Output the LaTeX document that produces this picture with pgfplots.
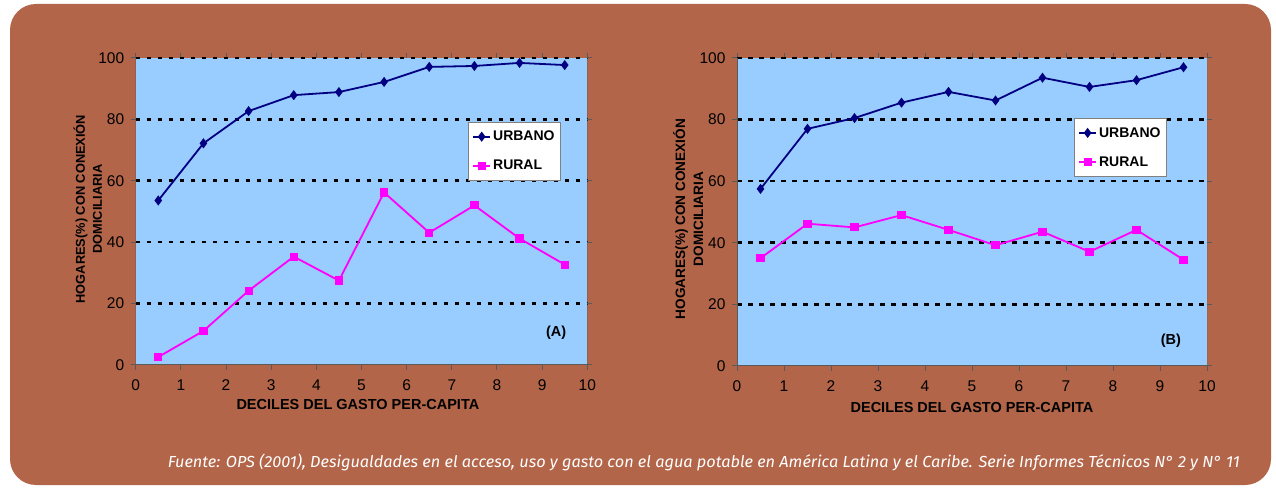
\documentclass[border=0pt]{standalone}
\usepackage{pgfplots}
\pgfplotsset{compat=1.18}
\usepackage{fontspec}
\setmainfont{Liberation Sans}
\newfontfamily\footfont{Fira Sans}
\definecolor{bgbrown}{RGB}{178,101,73}
\definecolor{plotblue}{RGB}{153,204,255}
\definecolor{urb}{RGB}{0,0,128}
\definecolor{rur}{RGB}{255,0,255}
\definecolor{axgray}{RGB}{90,90,90}

\pgfplotsset{mychart/.style={
  scale only axis, xmin=0, xmax=10, ymin=0, ymax=100,
  xtick={0,...,10}, ytick={0}, extra y ticks={20,40,60,80,100},
  extra y tick style={ymajorgrids=true},
  grid style={black, line width=2.6pt, dash pattern=on 4.5pt off 6.5pt},
  axis background/.style={fill=plotblue},
  axis line style={draw=none},
  tick style={draw=axgray, line width=1pt},
  tick align=outside, major tick length=5pt,
  tick label style={font=\fontsize{15.5}{16}\selectfont, black},
  xticklabel style={yshift=-6pt},
  yticklabel style={xshift=-3pt},
  /pgf/number format/assume math mode=true,
  xlabel={DECILES DEL GASTO PER-CAPITA},
  xlabel style={font=\fontsize{14.5}{15}\bfseries\selectfont, anchor=center},
  ylabel={HOGARES(\%) CON CONEXIÓN\\DOMICILIARIA},
  ylabel style={font=\fontsize{12.8}{17}\bfseries\selectfont, align=center, anchor=center, rotate=0},
  legend style={draw=gray, fill=white, font=\fontsize{14}{15}\bfseries\selectfont,
     row sep=14pt, inner xsep=4pt, inner ysep=7pt, legend cell align=left, anchor=north west},
  urbano/.style={color=urb, line width=1.8pt, mark=diamond*, mark size=3.6pt, mark options={solid}},
  rural/.style={color=rur, line width=1.8pt, mark=square*, mark size=3.2pt, mark options={solid}},
}}

\begin{document}
\begin{tikzpicture}[x=1pt,y=1pt]
\fill[white] (0,0) rectangle (1276,487);
\fill[bgbrown, rounded corners=26pt] (10,2) rectangle (1271,483);

% ---------- Panel A ----------
\begin{axis}[mychart, at={(135.7pt,122pt)}, anchor=south west, width=451.6pt, height=307pt,
  xlabel style={at={(rel axis cs:0.492,0)}, yshift=-40pt},
  ylabel style={at={(rel axis cs:-0.106,0.508)}},
  legend style={at={(rel axis cs:0.736,0.792)}}]
\draw[axgray, line width=1pt] (rel axis cs:0,1) -- (rel axis cs:0,0) -- (rel axis cs:1,0) -- (rel axis cs:1,1);
\addplot[urbano] coordinates {(0.5,53.6) (1.5,72.2) (2.5,82.7) (3.5,87.9) (4.5,88.9) (5.5,92.2) (6.5,97.1) (7.5,97.4) (8.5,98.4) (9.5,97.7)};
\addlegendentry{URBANO}
\addplot[rural] coordinates {(0.5,2.6) (1.5,11.1) (2.5,24.2) (3.5,35.3) (4.5,27.5) (5.5,56.2) (6.5,43.1) (7.5,52.0) (8.5,41.2) (9.5,32.7)};
\addlegendentry{RURAL}
\node[font=\fontsize{14.5}{15}\bfseries\selectfont] at (axis cs:9.31,10.4) {(A)};
\end{axis}

% ---------- Panel B ----------
\begin{axis}[mychart, at={(737pt,121pt)}, anchor=south west, width=470pt, height=308pt,
  xlabel style={at={(rel axis cs:0.5,0)}, yshift=-42pt},
  ylabel style={font=\fontsize{13.6}{18}\bfseries\selectfont, at={(rel axis cs:-0.104,0.477)}},
  legend style={at={(rel axis cs:0.717,0.805)}}]
\draw[axgray, line width=1pt] (rel axis cs:0,1) -- (rel axis cs:0,0) -- (rel axis cs:1,0) -- (rel axis cs:1,1);
\addplot[urbano] coordinates {(0.5,57.5) (1.5,77.0) (2.5,80.5) (3.5,85.5) (4.5,89.0) (5.5,86.2) (6.5,93.6) (7.5,90.6) (8.5,92.8) (9.5,97.0)};
\addlegendentry{URBANO}
\addplot[rural] coordinates {(0.5,35.0) (1.5,46.2) (2.5,45.0) (3.5,49.0) (4.5,44.2) (5.5,39.2) (6.5,43.6) (7.5,37.1) (8.5,44.2) (9.5,34.5)};
\addlegendentry{RURAL}
\node[font=\fontsize{14.5}{15}\bfseries\selectfont] at (axis cs:9.23,8.1) {(B)};
\end{axis}

\node[anchor=base east, text=white, inner sep=0pt] at (1240,20) {\resizebox{1072pt}{\height}{\footfont\itshape\fontsize{16}{17}\selectfont Fuente: OPS (2001), Desigualdades en el acceso, uso y gasto con el agua potable en América Latina y el Caribe. Serie Informes Técnicos N° 2 y N° 11}};
\end{tikzpicture}
\end{document}
